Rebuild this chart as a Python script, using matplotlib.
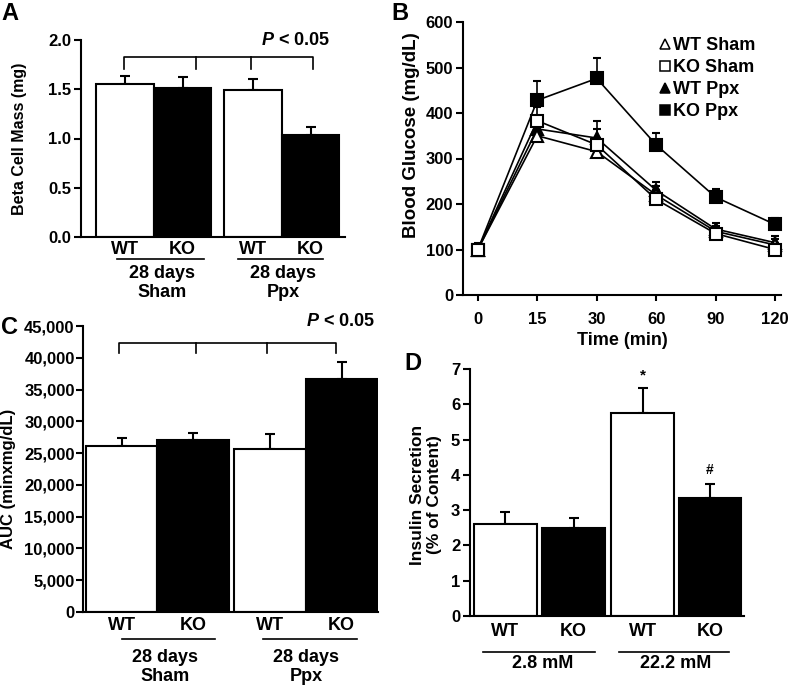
import matplotlib
matplotlib.use('Agg')
import matplotlib.pyplot as plt
from matplotlib.lines import Line2D
from matplotlib.transforms import ScaledTranslation
from matplotlib.ticker import FuncFormatter

plt.rcParams['font.family'] = ['Liberation Sans', 'DejaVu Sans']
plt.rcParams['font.weight'] = 'bold'
plt.rcParams['axes.labelweight'] = 'bold'
plt.rcParams['mathtext.fontset'] = 'custom'
plt.rcParams['mathtext.it'] = 'Liberation Sans:italic:bold'
plt.rcParams['mathtext.rm'] = 'Liberation Sans:bold'

# ---- data ----
genotypes = ['WT', 'KO', 'WT', 'KO']
surgery = ['28 days\nSham', '28 days\nPpx']

beta_mass = [1.55, 1.51, 1.49, 1.04]
beta_err = [0.08, 0.11, 0.11, 0.08]

times = ['0', '15', '30', '60', '90', '120']
wt_sham = [100, 350, 315, 220, 140, 110]
wt_sham_err = [10, 18, 22, 20, 12, 12]
ko_sham = [100, 383, 330, 210, 135, 100]
ko_sham_err = [10, 30, 52, 14, 10, 8]
wt_ppx = [100, 365, 345, 230, 145, 115]
wt_ppx_err = [14, 25, 20, 18, 14, 14]
ko_ppx = [100, 428, 476, 330, 215, 155]
ko_ppx_err = [12, 43, 45, 25, 17, 14]

auc = [26100, 27000, 25700, 36600]
auc_err = [1300, 1100, 2300, 2800]

glucose = ['2.8 mM', '22.2 mM']
insulin = [2.62, 2.50, 5.75, 3.35]
insulin_err = [0.33, 0.28, 0.70, 0.38]

W, H = 792, 686
fig = plt.figure(figsize=(W / 100, H / 100), dpi=100)
TXT = 13


def box(l, t, r, b):
    return [l / W, 1 - b / H, (r - l) / W, (b - t) / H]


def style(ax, pad=2):
    for s in ['top', 'right']:
        ax.spines[s].set_visible(False)
    for s in ['left', 'bottom']:
        ax.spines[s].set_linewidth(1.5)
    ax.tick_params(axis='y', direction='out', length=5, width=1.5, labelsize=12, pad=pad)


def below(ax, dy):
    return ax.get_xaxis_transform() + ScaledTranslation(0, -dy / 100, fig.dpi_scale_trans)


def label_under(ax, x, dy, s, size=TXT):
    ax.text(x, 0, s, transform=below(ax, dy), ha='center', va='center',
            fontsize=size, fontweight='bold', linespacing=1.15, clip_on=False)


def underline(ax, x0, x1, dy):
    fig.add_artist(Line2D([x0, x1], [0, 0], transform=below(ax, dy),
                          color='black', lw=1.2))


def bars(ax, pos, vals, errs, w):
    colors = ['white', 'black', 'white', 'black']
    ax.errorbar(pos, vals, yerr=[[0] * len(vals), errs], fmt='none', ecolor='black',
                elinewidth=1.5, capsize=3.6, capthick=1.5, zorder=1)
    ax.bar(pos, vals, w, color=colors, edgecolor='black', linewidth=1.5, zorder=2)
    ax.set_xticks([])


def bracket(ax, xs, ytop, ybot):
    ax.plot([xs[0], xs[0], xs[-1], xs[-1]], [ybot, ytop, ytop, ybot],
            color='black', lw=1.2, clip_on=False)
    for x in xs[1:-1]:
        ax.plot([x, x], [ytop, ybot], color='black', lw=1.2, clip_on=False)


# ---- A ----
axA = fig.add_axes(box(81, 40, 345, 237))
style(axA)
posA = [0, 1, 2.23, 3.23]
bars(axA, posA, beta_mass, beta_err, 1.0)
axA.set_xlim(-0.77, 3.83)
axA.set_ylim(0, 2.0)
axA.set_yticks([0, 0.5, 1.0, 1.5, 2.0])
axA.set_yticklabels(['0.0', '0.5', '1.0', '1.5', '2.0'])
bracket(axA, [-0.02, 1.23, 2.19, 3.27], 1.83, 1.71)
axA.text(2.96, 1.99, '$P$ < 0.05', ha='center', va='center', fontsize=TXT, fontweight='bold')
for x, g in zip(posA, genotypes):
    label_under(axA, x, 13, g)
underline(axA, -0.14, 1.37, 22)
underline(axA, 1.97, 3.44, 22)
label_under(axA, 0.64, 46, surgery[0])
label_under(axA, 2.75, 46, surgery[1])
fig.text(20 / W, 1 - 139 / H, 'Beta Cell Mass (mg)', rotation=90, ha='center', va='center',
         fontsize=11.5, fontweight='bold')

# ---- B ----
axB = fig.add_axes(box(463, 22, 781, 295))
style(axB, pad=2)
axB.tick_params(axis='x', direction='out', length=4, width=1.5, labelsize=12, pad=8)
xB = list(range(len(times)))
series = [
    (wt_ppx, wt_ppx_err, '^', 'black', 'WT Ppx'),
    (wt_sham, wt_sham_err, '^', 'white', 'WT Sham'),
    (ko_ppx, ko_ppx_err, 's', 'black', 'KO Ppx'),
    (ko_sham, ko_sham_err, 's', 'white', 'KO Sham'),
]
for vals, errs, m, fc, name in series:
    axB.errorbar(xB, vals, yerr=[[0] * len(vals), errs], color='black', marker=m,
                 mfc=fc, mec='black', ms=8, mew=1.5, lw=1.2, elinewidth=1.2,
                 capsize=3, capthick=1.2, clip_on=False)
axB.set_xticks(xB)
axB.set_xticklabels(times)
axB.set_xlim(-0.25, 5.1)
axB.set_ylim(0, 600)
axB.set_yticks(range(0, 601, 100))
axB.set_xlabel('Time (min)', fontsize=TXT, labelpad=4)
handles = [Line2D([], [], ls='none', marker=m, mfc=fc, mec='black', ms=6.5, mew=1.1)
           for _, _, m, fc, _ in [series[1], series[3], series[0], series[2]]]
names = ['WT Sham', 'KO Sham', 'WT Ppx', 'KO Ppx']
fig.legend(handles, names, loc='upper left', bbox_to_anchor=(651 / W, 1 - 28 / H),
           frameon=False, handlelength=0.55, handletextpad=0.15, labelspacing=0.28,
           borderpad=0, prop={'size': TXT, 'weight': 'bold'})
fig.text(411 / W, 1 - 135 / H, 'Blood Glucose (mg/dL)', rotation=90, ha='center', va='center',
         fontsize=13.5, fontweight='bold')

# ---- C ----
axC = fig.add_axes(box(83, 326, 378, 612))
style(axC, pad=1)
posC = [0, 1, 2.08, 3.08]
bars(axC, posC, auc, auc_err, 1.0)
axC.set_xlim(-0.54, 3.59)
axC.set_ylim(0, 45000)
axC.set_yticks(range(0, 45001, 5000))
axC.yaxis.set_major_formatter(FuncFormatter(lambda v, p: f'{int(v):,}'))
bracket(axC, [-0.03, 1.04, 2.03, 3.0], 42400, 40800)
axC.text(3.06, 45700, '$P$ < 0.05', ha='center', va='center', fontsize=TXT, fontweight='bold')
for x, g in zip(posC, genotypes):
    label_under(axC, x, 13, g)
underline(axC, 0.0, 1.31, 27)
underline(axC, 1.98, 3.29, 27)
label_under(axC, 0.61, 55, surgery[0])
label_under(axC, 2.58, 55, surgery[1])
fig.text(9 / W, 1 - 479 / H, 'AUC (minxmg/dL)', rotation=90, ha='center', va='center',
         fontsize=12, fontweight='bold')

# ---- D ----
axD = fig.add_axes(box(470, 369, 744, 616))
style(axD, pad=2)
posD = [0, 1.07, 2.15, 3.2]
bars(axD, posD, insulin, insulin_err, 0.98)
axD.set_xlim(-0.55, 3.73)
axD.set_ylim(0, 7)
axD.set_yticks(range(0, 8))
axD.text(posD[2], 6.83, '*', ha='center', va='center', fontsize=11, fontweight='bold')
axD.text(posD[3], 4.14, '#', ha='center', va='center', fontsize=10, fontweight='bold')
for x, g in zip(posD, genotypes):
    label_under(axD, x, 16, g)
underline(axD, -0.34, 1.41, 36)
underline(axD, 1.77, 3.5, 36)
label_under(axD, 0.59, 47, glucose[0])
label_under(axD, 2.66, 47, glucose[1])
fig.text(426 / W, 1 - 495 / H, 'Insulin Secretion\n(% of Content)', rotation=90,
         ha='center', va='center', fontsize=12.5, fontweight='bold', linespacing=1.1)

# panel letters
for s, x, y in [('A', 1, 13), ('B', 391, 13), ('C', 1, 327), ('D', 404, 363)]:
    fig.text(x / W, 1 - y / H, s, ha='left', va='center', fontsize=17, fontweight='bold')

fig.savefig('out.png', dpi=100)
